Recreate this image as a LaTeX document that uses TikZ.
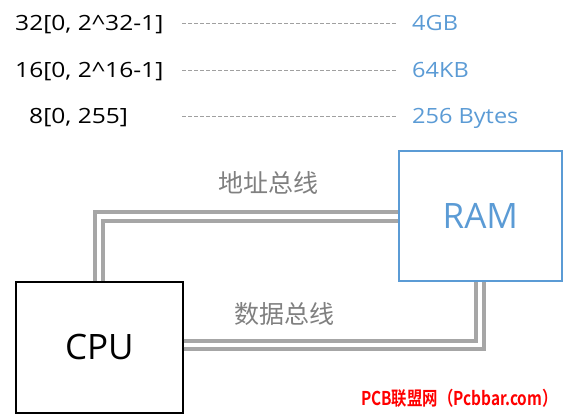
\documentclass[tikz,border=0pt]{standalone}
\usepackage{fontspec}
\setmainfont{Open Sans}
\newfontfamily\cjk{Noto Sans CJK SC}
\newfontfamily\redfont{Noto Sans CJK SC Bold}
\definecolor{busgray}{HTML}{A6A6A6}
\definecolor{dashgray}{HTML}{A0A0A0}
\definecolor{ramblue}{HTML}{5B9BD5}
\definecolor{lblgray}{HTML}{808080}
\newcommand{\rowtext}[1]{\scalebox{1.12}[1]{#1}}
\newcommand{\rangetext}[1]{\scalebox{1.17}[1]{#1}}
\begin{document}
\begin{tikzpicture}[x=1pt,y=-1pt,
  rangetxt/.style={anchor=base west,font=\fontsize{21}{24}\selectfont,text=black,inner sep=0pt},
  sizetxt/.style={anchor=base west,font=\fontsize{21}{24}\selectfont,text=ramblue,inner sep=0pt},
  guideline/.style={draw=dashgray,line width=0.9pt,dash pattern=on 3.5pt off 2.5pt},
  busline/.style={draw=busgray,line width=3.8pt},
  buslabel/.style={font=\cjk\fontsize{25}{28}\selectfont,text=lblgray,inner sep=0pt},
  unitbox/.style={line width=1.7pt,anchor=north west,font=\fontsize{35}{40}\selectfont,inner sep=0pt}]
\useasboundingbox (0,0) rectangle (563,413);
% range table
\node[rangetxt] (r32) at (15,30.5) {\rangetext{32[0, 2\^{}32-1]}};
\node[rangetxt] (r16) at (15,77) {\rangetext{16[0, 2\^{}16-1]}};
\node[rangetxt] (r8) at (29,123) {\rangetext{8[0, 255]}};
\node[sizetxt] (s32) at (412,30.5) {\rowtext{4GB}};
\node[sizetxt] (s16) at (412,77) {\rowtext{64KB}};
\node[sizetxt] (s8) at (412,123) {\rowtext{256 Bytes}};
\coordinate (d32a) at (182,23); \coordinate (d32b) at (396,23);
\coordinate (d16a) at (182,70); \coordinate (d16b) at (396,70);
\coordinate (d8a) at (182,116); \coordinate (d8b) at (396,116);
\draw[guideline] (d32a) -- (d32b);
\draw[guideline] (d16a) -- (d16b);
\draw[guideline] (d8a) -- (d8b);
% boxes
\node[unitbox,draw=black,minimum width=167pt,minimum height=131pt] (cpu) at (15,281) {CPU};
\node[unitbox,draw=ramblue,text=ramblue,minimum width=163pt,minimum height=130pt] (ram) at (398,150) {RAM};
% address bus
\coordinate (ao) at (95,212);
\coordinate (ai) at (103,221);
\draw[busline] (cpu.north -| ao) |- (ram.west |- ao);
\draw[busline] (cpu.north -| ai) |- (ram.west |- ai);
% data bus
\coordinate (di) at (476,341);
\coordinate (do) at (484,349);
\draw[busline] (cpu.east |- di) -| (ram.south -| di);
\draw[busline] (cpu.east |- do) -| (ram.south -| do);
% labels
\node[buslabel] (al) at (268,183) {地址总线};
\node[buslabel] (dl) at (284,314) {数据总线};
\node[font=\redfont\fontsize{19}{21}\selectfont,text=red,anchor=base east,inner sep=0pt] (wm) at (558,405) {\scalebox{0.81}[1]{PCB联盟网（Pcbbar.com）}};
\end{tikzpicture}
\end{document}
